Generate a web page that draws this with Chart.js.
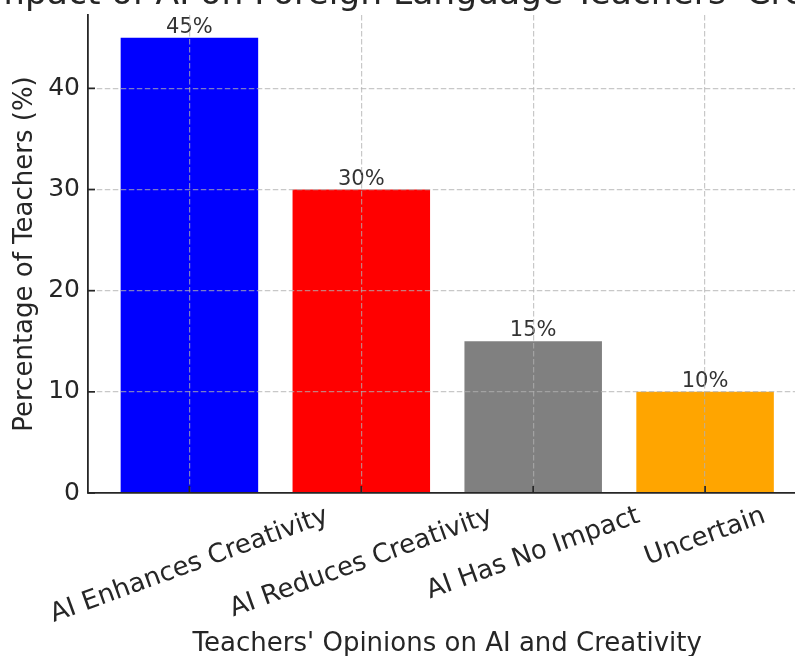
<!DOCTYPE html>
<html>
<head>
<meta charset="utf-8">
<title>Impact of AI on Foreign Language Teachers' Creativity</title>
<script src="https://cdn.jsdelivr.net/npm/chart.js@4.4.1/dist/chart.umd.min.js"></script>
<style>
  html, body { margin: 0; padding: 0; background: #fff; overflow: hidden; }
  body { width: 795px; height: 656px; position: relative; }
  /* canvas is larger than the window: the title and right edge are cropped like the reference */
  #chart { position: absolute; left: -60px; top: -30px; }
</style>
</head>
<body>
<canvas id="chart" width="1014" height="700"></canvas>
<script>
// Data
const categories = ['AI Enhances Creativity', 'AI Reduces Creativity', 'AI Has No Impact', 'Uncertain'];
const percentages = [45, 30, 15, 10];
const yTicks = [0, 10, 20, 30, 40];
const yMax = 47.25;
const xMin = -0.59;
const xMax = 3.59;

const titleText = "Impact of AI on Foreign Language Teachers' Creativity";
const xTitle = "Teachers' Opinions on AI and Creativity";
const yTitle = 'Percentage of Teachers (%)';

// Styles
const barColors = ['#0000ff', '#ff0000', '#808080', '#ffa500'];
const textColor = '#262626';
const gridColor = 'rgba(176, 176, 176, 0.7)';
const fontFamily = "'DejaVu Sans', sans-serif";

// title centred over the plot area (the built-in title centres on the whole canvas)
const axesTitle = {
  id: 'axesTitle',
  afterDraw(chart) {
    const ctx = chart.ctx;
    const area = chart.chartArea;
    ctx.save();
    ctx.font = '34.5px ' + fontFamily;
    ctx.fillStyle = textColor;
    ctx.textAlign = 'center';
    ctx.textBaseline = 'alphabetic';
    ctx.fillText(titleText, (area.left + area.right) / 2, area.top - 11);
    ctx.restore();
  }
};

// bar value labels ("45%")
const valueLabels = {
  id: 'valueLabels',
  afterDatasetsDraw(chart) {
    const ctx = chart.ctx;
    const meta = chart.getDatasetMeta(0);
    ctx.save();
    ctx.font = '21px ' + fontFamily;
    ctx.fillStyle = '#333333';
    ctx.textAlign = 'center';
    ctx.textBaseline = 'alphabetic';
    meta.data.forEach(function(bar, i) {
      ctx.fillText(percentages[i] + '%', bar.x, bar.y - 5);
    });
    ctx.restore();
  }
};

// rotated category labels centred on their ticks, and inward tick marks
const axisDecor = {
  id: 'axisDecor',
  afterDraw(chart) {
    const ctx = chart.ctx;
    const area = chart.chartArea;
    const xs = chart.scales.x;
    const ys = chart.scales.y;
    const angle = 20 * Math.PI / 180;

    ctx.save();
    ctx.strokeStyle = textColor;
    ctx.lineWidth = 1.7;
    categories.forEach(function(c, i) {
      const x = xs.getPixelForValue(i);
      ctx.beginPath();
      ctx.moveTo(x, area.bottom);
      ctx.lineTo(x, area.bottom - 7);
      ctx.stroke();
    });
    yTicks.forEach(function(v) {
      const y = ys.getPixelForValue(v);
      ctx.beginPath();
      ctx.moveTo(area.left, y);
      ctx.lineTo(area.left + 7, y);
      ctx.stroke();
    });

    ctx.font = '26px ' + fontFamily;
    ctx.fillStyle = textColor;
    ctx.textAlign = 'center';
    ctx.textBaseline = 'middle';
    const h = 26 * 1.17;
    const top = area.bottom + 8;
    categories.forEach(function(c, i) {
      const w = ctx.measureText(c).width;
      const cy = top + (w * Math.sin(angle) + h * Math.cos(angle)) / 2;
      ctx.save();
      ctx.translate(xs.getPixelForValue(i), cy);
      ctx.rotate(-angle);
      ctx.fillText(c, 0, 0);
      ctx.restore();
    });
    ctx.restore();
  }
};

new Chart(document.getElementById('chart'), {
  type: 'bar',
  data: {
    datasets: [{
      data: percentages.map(function(v, i) { return { x: i, y: v }; }),
      backgroundColor: barColors,
      borderWidth: 0,
      barPercentage: 1.0,
      categoryPercentage: 0.8
    }]
  },
  options: {
    responsive: false,
    devicePixelRatio: 1,
    animation: false,
    layout: { padding: { left: 0, right: 147.5, top: 45, bottom: 0 } },
    plugins: {
      legend: { display: false },
      tooltip: { enabled: false },
      title: { display: false }
    },
    scales: {
      x: {
        type: 'linear',
        min: xMin,
        max: xMax,
        offset: false,
        afterBuildTicks: function(scale) {
          scale.ticks = categories.map(function(c, i) { return { value: i }; });
        },
        ticks: { display: false },
        grid: { color: gridColor, lineWidth: 1.2, z: 1, drawTicks: false, offset: false },
        border: { display: true, color: textColor, width: 1.8, z: 1, dash: [5.5, 2.5] },
        title: {
          display: true,
          text: xTitle,
          color: textColor,
          font: { family: fontFamily, size: 26 },
          padding: { top: 0, bottom: 10.5 }
        },
        afterFit: function(scale) {
          scale.height = 177;
          scale.paddingLeft = 0;
          scale.paddingRight = 0;
        }
      },
      y: {
        min: 0,
        max: yMax,
        afterBuildTicks: function(scale) {
          scale.ticks = yTicks.map(function(v) { return { value: v }; });
        },
        ticks: {
          color: textColor,
          font: { family: fontFamily, size: 25 },
          padding: 8
        },
        grid: {
          color: function(ctx) { return ctx.tick && ctx.tick.value === 0 ? 'transparent' : gridColor; },
          lineWidth: 1.2,
          z: 1,
          drawTicks: false
        },
        border: { display: true, color: textColor, width: 1.8, z: 1, dash: [5.5, 2.5] },
        title: {
          display: true,
          text: yTitle,
          color: textColor,
          font: { family: fontFamily, size: 26 },
          padding: { top: 70, bottom: 0 }
        },
        afterFit: function(scale) {
          scale.width = 148;
        }
      }
    }
  },
  plugins: [axesTitle, valueLabels, axisDecor]
});
</script>
</body>
</html>
